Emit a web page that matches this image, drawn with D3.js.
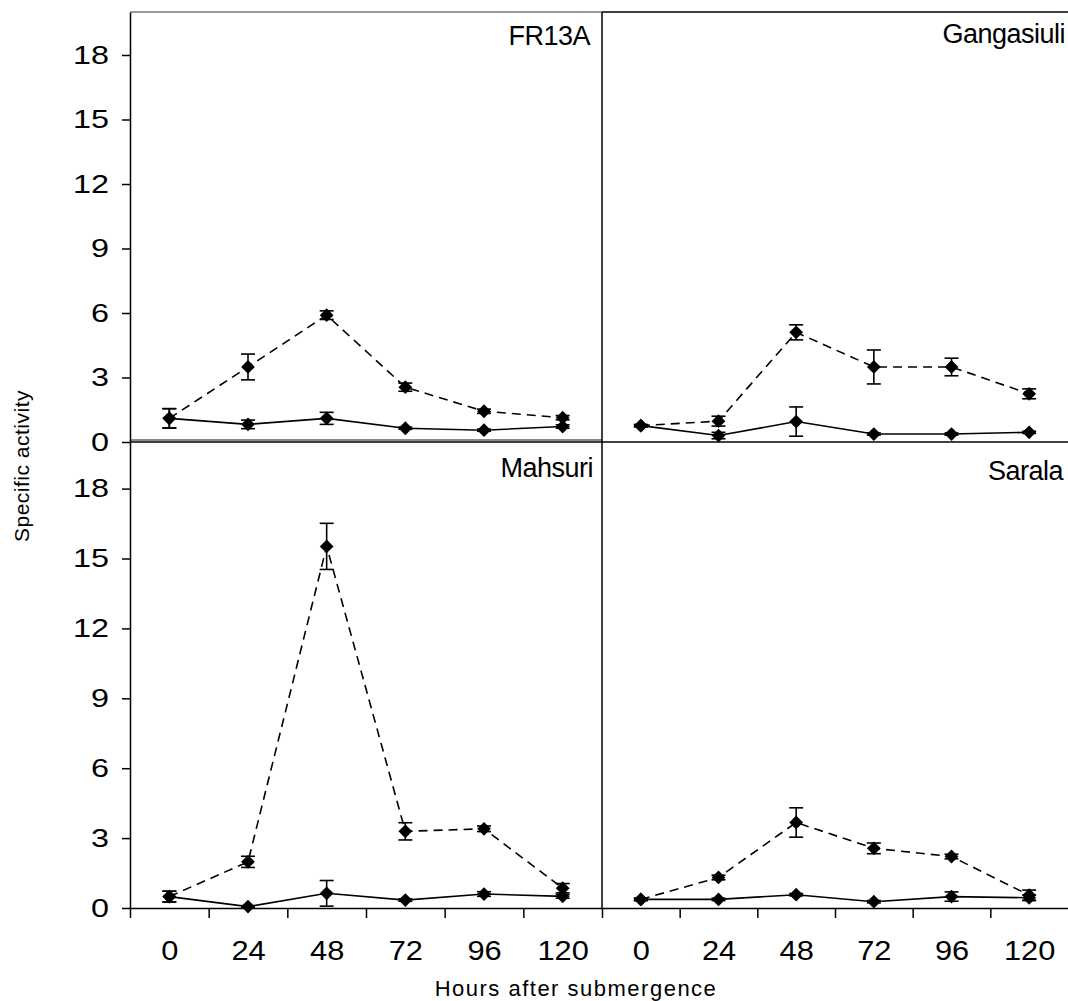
<!DOCTYPE html>
<html><head><meta charset="utf-8">
<script src="https://cdn.jsdelivr.net/npm/d3@7"></script>
<style>
body{margin:0;background:#fff}
svg{display:block}
text{font-family:"Liberation Sans",Arial,sans-serif;fill:#000}
</style>
</head><body>
<svg id="c" width="1068" height="1001"></svg>
<script>
// ---- data ----
const hours = [0, 24, 48, 72, 96, 120];
const yTickValues = [0, 3, 6, 9, 12, 15, 18];
const xTickMarks = [-12, 12, 36, 60, 84, 108];
const panelNames = ["FR13A", "Gangasiuli", "Mahsuri", "Sarala"];

const fr13aDashed     = [1.10, 3.49, 5.90, 2.55, 1.43, 1.13];
const fr13aDashedErr  = [0.45, 0.60, 0.20, 0.19, 0.10, 0.10];
const fr13aSolid      = [1.10, 0.82, 1.10, 0.64, 0.55, 0.72];
const fr13aSolidErr   = [0.45, 0.20, 0.28, 0.05, 0.05, 0.08];

const gangaDashed     = [0.76, 0.97, 5.10, 3.49, 3.49, 2.24];
const gangaDashedErr  = [0.05, 0.23, 0.35, 0.79, 0.41, 0.23];
const gangaSolid      = [0.76, 0.30, 0.95, 0.37, 0.37, 0.45];
const gangaSolidErr   = [0.05, 0.15, 0.68, 0.05, 0.05, 0.05];

const mahsuriDashed    = [0.49, 1.98, 15.52, 3.29, 3.40, 0.85];
const mahsuriDashedErr = [0.23, 0.24, 0.99, 0.37, 0.12, 0.20];
const mahsuriSolid     = [0.49, 0.06, 0.63, 0.34, 0.60, 0.50];
const mahsuriSolidErr  = [0.23, 0.04, 0.55, 0.05, 0.10, 0.08];

const saralaDashed     = [0.37, 1.31, 3.67, 2.56, 2.21, 0.55];
const saralaDashedErr  = [0.05, 0.10, 0.63, 0.23, 0.10, 0.22];
const saralaSolid      = [0.37, 0.37, 0.57, 0.27, 0.49, 0.44];
const saralaSolidErr   = [0.05, 0.05, 0.05, 0.05, 0.20, 0.12];

// ---- layout ----
const svg = d3.select("#c");
const xL = d3.scaleLinear().domain([-12, 132]).range([130, 602]);
const xR = d3.scaleLinear().domain([-12, 132]).range([602, 1068]);
const yT = d3.scaleLinear().domain([0, 20]).range([442, 12]);
const yB = d3.scaleLinear().domain([0, 20]).range([908, 442]);

const panels = [
  {name: panelNames[0], x: xL, y: yT, d: fr13aDashed, de: fr13aDashedErr, s: fr13aSolid, se: fr13aSolidErr, lx: 590, ly: 45},
  {name: panelNames[1], x: xR, y: yT, d: gangaDashed, de: gangaDashedErr, s: gangaSolid, se: gangaSolidErr, lx: 1065, ly: 43},
  {name: panelNames[2], x: xL, y: yB, d: mahsuriDashed, de: mahsuriDashedErr, s: mahsuriSolid, se: mahsuriSolidErr, lx: 593, ly: 477},
  {name: panelNames[3], x: xR, y: yB, d: saralaDashed, de: saralaDashedErr, s: saralaSolid, se: saralaSolidErr, lx: 1063, ly: 480}
];

// frames
const fr = svg.append("g").attr("fill", "none");
fr.append("line").attr("x1", 130).attr("x2", 602).attr("y1", 12).attr("y2", 12).attr("stroke", "#7a7a7a").attr("stroke-width", 1.5);
fr.append("line").attr("x1", 602).attr("x2", 1068).attr("y1", 12).attr("y2", 12).attr("stroke", "#000").attr("stroke-width", 1.5);
fr.append("line").attr("x1", 130).attr("x2", 602).attr("y1", 440).attr("y2", 440).attr("stroke", "#8a8a8a").attr("stroke-width", 2);
fr.append("line").attr("x1", 130).attr("x2", 1068).attr("y1", 442).attr("y2", 442).attr("stroke", "#000").attr("stroke-width", 1.5);
fr.append("line").attr("x1", 602).attr("x2", 602).attr("y1", 12).attr("y2", 908).attr("stroke", "#000").attr("stroke-width", 1.5);

// y axes
[yT, yB].forEach(y => {
  const g = svg.append("g").attr("transform", "translate(130,0)")
    .call(d3.axisLeft(y).tickValues(yTickValues).tickSize(8).tickPadding(15).tickSizeOuter(0));
  g.select(".domain").attr("stroke", "#000").attr("stroke-width", 1.5);
  g.selectAll(".tick line").attr("stroke", "#000").attr("stroke-width", 1.5);
  g.selectAll(".tick text").style("font-size", "25.5px").attr("font-family", null)
    .attr("x", 0).attr("transform", "translate(-21,0) scale(1.27,1)");
});

// x axes
[xL, xR].forEach(x => {
  const g = svg.append("g").attr("transform", "translate(0,908)")
    .call(d3.axisBottom(x).tickValues(xTickMarks).tickSize(10).tickFormat("").tickSizeOuter(0));
  g.select(".domain").attr("stroke", "#000").attr("stroke-width", 1.5);
  g.selectAll(".tick line").attr("stroke", "#000").attr("stroke-width", 1.5);
  const gl = svg.append("g").attr("transform", "translate(0,908)")
    .call(d3.axisBottom(x).tickValues(hours).tickSize(0).tickPadding(32));
  gl.select(".domain").remove();
  gl.selectAll(".tick text").style("font-size", "28px").attr("font-family", null)
    .attr("transform", "scale(1.1,1)");
});

// series
const diamond = d3.symbol().type(d3.symbolSquare).size(95);
panels.forEach(p => {
  const g = svg.append("g");
  const series = [
    {vals: p.d, errs: p.de, dash: "9,6"},
    {vals: p.s, errs: p.se, dash: null}
  ];
  series.forEach(s => {
    const pts = hours.map((h, i) => ({h, v: s.vals[i], e: s.errs[i]}));
    const line = d3.line().x(d => p.x(d.h)).y(d => p.y(d.v));
    g.append("path").datum(pts).attr("d", line).attr("fill", "none")
      .attr("stroke", "#000").attr("stroke-width", 1.6)
      .attr("stroke-dasharray", s.dash);
    const eb = g.append("g").attr("stroke", "#000").attr("stroke-width", 1.6);
    pts.forEach(d => {
      const cx = p.x(d.h), y1 = p.y(d.v + d.e), y2 = p.y(d.v - d.e);
      eb.append("line").attr("x1", cx).attr("x2", cx).attr("y1", y1).attr("y2", y2);
      eb.append("line").attr("x1", cx - 7).attr("x2", cx + 7).attr("y1", y1).attr("y2", y1);
      eb.append("line").attr("x1", cx - 7).attr("x2", cx + 7).attr("y1", y2).attr("y2", y2);
    });
    g.selectAll(null).data(pts).enter().append("path")
      .attr("d", diamond)
      .attr("transform", d => `translate(${p.x(d.h)},${p.y(d.v)}) rotate(45)`)
      .attr("fill", "#000");
  });
  svg.append("text").attr("x", p.lx).attr("y", p.ly)
    .attr("text-anchor", "end").style("font-size", "27px").style("letter-spacing", "-0.5px")
    .text(p.name);
});

// axis titles
svg.append("text").attr("transform", "translate(29,466) rotate(-90)")
  .attr("text-anchor", "middle").style("font-size", "21px").style("letter-spacing", "0.5px")
  .text("Specific activity");
svg.append("text").attr("x", 576).attr("y", 996)
  .attr("text-anchor", "middle").style("font-size", "22px").style("letter-spacing", "1.5px")
  .text("Hours after submergence");
</script>
</body></html>
